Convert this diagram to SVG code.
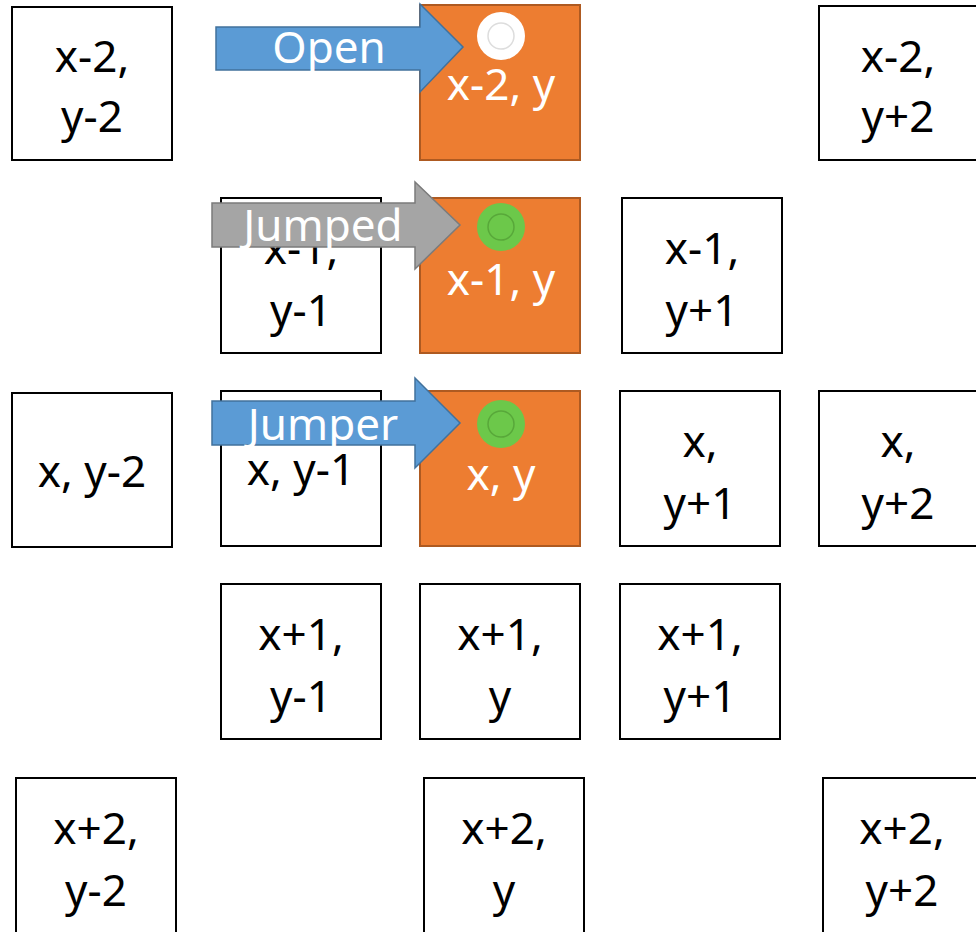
<svg xmlns="http://www.w3.org/2000/svg" width="976" height="932" viewBox="0 0 976 932">
<style>
.b{fill:#fff;stroke:#000;stroke-width:2}
.o{fill:#ED7D31;stroke:#AE5A21;stroke-width:2}
text{font-family:"Noto Sans","Liberation Sans",sans-serif;font-size:44px;text-anchor:middle}
.t{fill:#000}
.w{fill:#fff}
</style>
<rect width="976" height="932" fill="#fff"/>
<g id="n-x-2-y-2"><rect class="b" x="12" y="7" width="160" height="153"/><text class="t" x="92" y="72">x-2,</text><text class="t" x="92" y="132">y-2</text></g>
<g id="n-x-2-y"><rect class="o" x="420" y="5" width="160" height="155"/><text class="w" x="501" y="100">x-2, y</text></g>
<g id="n-x-2-y2"><rect class="b" x="819" y="6" width="170" height="154"/><text class="t" x="898" y="72">x-2,</text><text class="t" x="898" y="132">y+2</text></g>

<g id="n-x-1-y-1"><rect class="b" x="221" y="198" width="160" height="155"/><text class="t" x="301" y="264">x-1,</text><text class="t" x="301" y="326">y-1</text></g>
<g id="n-x-1-y"><rect class="o" x="420" y="198" width="160" height="155"/><text class="w" x="501" y="295">x-1, y</text></g>
<g id="n-x-1-y1"><rect class="b" x="622" y="198" width="160" height="155"/><text class="t" x="702" y="264">x-1,</text><text class="t" x="702" y="326">y+1</text></g>

<g id="n-x-y-2"><rect class="b" x="12" y="393" width="160" height="154"/><text class="t" x="92" y="487">x, y-2</text></g>
<g id="n-x-y-1"><rect class="b" x="221" y="391" width="160" height="155"/><text class="t" x="301" y="485">x, y-1</text></g>
<g id="n-x-y"><rect class="o" x="420" y="391" width="160" height="155"/><text class="w" x="501" y="490">x, y</text></g>
<g id="n-x-y1"><rect class="b" x="620" y="391" width="160" height="155"/><text class="t" x="700" y="457">x,</text><text class="t" x="700" y="519">y+1</text></g>
<g id="n-x-y2"><rect class="b" x="819" y="391" width="170" height="155"/><text class="t" x="898" y="457">x,</text><text class="t" x="898" y="519">y+2</text></g>

<g id="n-x1-y-1"><rect class="b" x="221" y="584" width="160" height="155"/><text class="t" x="301" y="650">x+1,</text><text class="t" x="301" y="712">y-1</text></g>
<g id="n-x1-y"><rect class="b" x="420" y="584" width="160" height="155"/><text class="t" x="500" y="650">x+1,</text><text class="t" x="500" y="712">y</text></g>
<g id="n-x1-y1"><rect class="b" x="620" y="584" width="160" height="155"/><text class="t" x="700" y="650">x+1,</text><text class="t" x="700" y="712">y+1</text></g>

<g id="n-x2-y-2"><rect class="b" x="16" y="778" width="160" height="170"/><text class="t" x="96" y="844">x+2,</text><text class="t" x="96" y="906">y-2</text></g>
<g id="n-x2-y"><rect class="b" x="424" y="778" width="160" height="170"/><text class="t" x="504" y="844">x+2,</text><text class="t" x="504" y="906">y</text></g>
<g id="n-x2-y2"><rect class="b" x="823" y="778" width="170" height="170"/><text class="t" x="902" y="844">x+2,</text><text class="t" x="902" y="906">y+2</text></g>

<g id="markers">
<circle cx="501" cy="36" r="24" fill="#fff"/><circle cx="501" cy="36" r="13" fill="none" stroke="#ddd" stroke-width="1.5"/>
<circle cx="501" cy="227" r="24" fill="#6CC84A"/><circle cx="501" cy="227" r="13" fill="none" stroke="#58A83A" stroke-width="1.5"/>
<circle cx="501" cy="424" r="24" fill="#6CC84A"/><circle cx="501" cy="424" r="13" fill="none" stroke="#58A83A" stroke-width="1.5"/>
</g>

<g id="connectors">
<g id="open-arrow"><path d="M216,27 H420 V4 L463,47 L420,92 V70 H216 Z" fill="#5B9BD5" stroke="#41719C" stroke-width="1.5"/><text class="w" x="329" y="63">Open</text></g>
<g id="jumped-arrow"><path d="M212,203 H415 V182 L460,225 L415,269 V247 H212 Z" fill="#A5A5A5" stroke="#7B7B7B" stroke-width="1.5"/><text class="w" x="323" y="241">Jumped</text></g>
<g id="jumper-arrow"><path d="M212,401 H415 V378 L460,423 L415,468 V445 H212 Z" fill="#5B9BD5" stroke="#41719C" stroke-width="1.5"/><text class="w" x="323" y="440">Jumper</text></g>
</g>
</svg>
